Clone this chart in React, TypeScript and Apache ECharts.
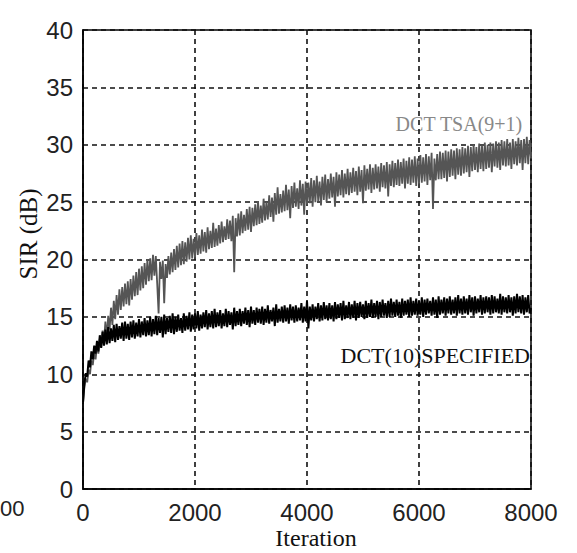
import React, { useEffect, useRef } from "react";
import * as echarts from "echarts";

const iterationStep = 25;

const tsaSir = [
  7.5, 8.9, 9.6, 9.3, 10.4, 10.0, 11.2, 10.8, 11.9, 11.3, 12.6, 11.8, 13.1, 12.4, 13.8, 12.9,
  14.6, 13.2, 15.1, 13.9, 15.8, 14.3, 16.4, 14.8, 16.9, 15.2, 17.4, 15.6, 17.6, 15.9, 17.9, 16.1,
  18.1, 16.0, 18.3, 16.5, 18.6, 16.8, 18.9, 16.9, 19.2, 17.3, 19.4, 17.5, 19.7, 17.8, 20.0, 18.1,
  20.1, 18.2, 20.4, 18.6, 20.3, 17.9, 15.3, 19.8, 18.3, 19.9, 16.2, 19.6, 18.4, 20.3, 18.7, 20.6,
  18.9, 20.9, 19.1, 21.2, 19.3, 21.4, 19.5, 21.6, 19.6, 21.5, 19.8, 21.9, 20.0, 22.1, 20.1, 21.8,
  20.2, 22.3, 20.4, 22.1, 20.5, 22.6, 20.7, 22.4, 20.6, 22.8, 20.9, 22.5, 21.0, 23.2, 21.1, 22.7,
  21.2, 23.0, 21.4, 23.3, 21.5, 22.9, 21.7, 23.5, 21.8, 23.4, 21.6, 23.8, 18.9, 23.6, 22.0, 24.0,
  22.1, 24.2, 22.3, 23.9, 22.5, 24.4, 22.6, 24.6, 22.4, 24.5, 22.9, 24.8, 23.0, 25.1, 23.1, 24.7,
  23.2, 25.3, 23.4, 25.0, 23.5, 25.6, 23.7, 25.4, 23.3, 25.8, 23.9, 26.3, 24.0, 25.7, 24.1, 26.0,
  24.2, 26.5, 24.3, 26.1, 23.6, 26.4, 24.5, 26.7, 24.6, 26.2, 24.4, 26.9, 24.7, 26.6, 23.9, 26.8,
  24.8, 26.7, 24.9, 27.1, 24.6, 26.9, 25.0, 27.3, 25.1, 26.8, 24.7, 27.2, 25.2, 27.4, 25.0, 27.0,
  25.3, 27.5, 25.4, 27.2, 24.6, 27.6, 25.5, 27.4, 25.6, 27.8, 25.4, 27.5, 25.7, 27.9, 25.6, 27.6,
  25.8, 28.0, 25.9, 27.7, 25.6, 28.1, 25.9, 27.8, 24.9, 28.2, 26.0, 27.9, 26.1, 28.3, 25.8, 28.0,
  26.1, 28.3, 26.2, 28.1, 25.9, 28.4, 26.3, 28.2, 26.2, 28.5, 25.5, 28.3, 26.4, 28.6, 26.3, 28.4,
  26.5, 28.7, 26.4, 28.5, 26.6, 28.8, 26.2, 28.6, 26.6, 28.9, 26.5, 28.7, 26.7, 29.0, 26.4, 28.8,
  26.6, 29.1, 26.7, 28.9, 26.8, 29.2, 26.5, 29.0, 26.9, 29.3, 24.4, 28.8, 26.9, 29.2, 27.0, 29.4,
  27.0, 29.3, 27.1, 29.5, 26.8, 29.4, 27.2, 29.6, 27.3, 29.5, 27.0, 29.7, 27.4, 29.6, 27.3, 29.8,
  27.5, 29.7, 27.6, 29.9, 27.2, 29.8, 27.7, 30.0, 27.8, 29.8, 27.6, 30.1, 27.9, 29.9, 27.7, 30.2,
  27.9, 30.0, 28.0, 30.2, 27.6, 30.1, 28.1, 30.3, 28.0, 30.2, 27.8, 30.4, 28.2, 30.3, 28.1, 30.5,
  28.2, 30.2, 27.9, 30.5, 28.3, 30.3, 28.2, 30.6, 28.4, 30.4, 27.8, 30.5, 28.4, 30.7, 28.3, 30.4,
  28.8,
];

const specifiedSir = [
  7.5, 9.2, 10.1, 9.8, 11.2, 10.6, 12.0, 11.3, 12.5, 11.8, 12.9, 12.0, 13.4, 12.3, 13.7, 12.5,
  13.9, 12.6, 14.1, 12.7, 14.0, 12.9, 14.3, 12.8, 14.4, 13.0, 14.2, 13.1, 14.5, 12.9, 14.6, 13.1,
  14.4, 13.0, 14.6, 13.2, 14.7, 13.1, 14.5, 13.3, 14.8, 13.2, 14.6, 13.4, 14.9, 13.3, 14.7, 13.4,
  15.0, 13.3, 14.8, 13.5, 15.1, 13.4, 14.9, 13.6, 15.0, 13.2, 15.2, 13.5, 14.9, 13.7, 15.1, 13.6,
  15.3, 13.5, 15.0, 13.7, 15.2, 13.8, 14.9, 13.6, 15.3, 13.8, 15.1, 13.9, 15.4, 13.7, 15.2, 13.9,
  15.3, 14.0, 15.5, 13.8, 15.2, 14.0, 15.4, 14.1, 15.6, 13.9, 15.3, 14.1, 15.5, 14.0, 15.7, 14.1,
  15.4, 14.2, 15.6, 14.0, 15.3, 14.2, 15.7, 14.1, 15.5, 14.3, 15.4, 13.9, 15.8, 14.2, 15.5, 14.3,
  15.7, 14.2, 15.5, 14.4, 15.8, 14.3, 15.6, 14.1, 15.9, 14.4, 15.6, 14.3, 15.8, 14.5, 15.7, 14.4,
  15.9, 14.3, 15.7, 14.5, 16.0, 14.4, 15.6, 14.6, 15.8, 14.2, 16.1, 14.5, 15.7, 14.6, 15.9, 14.5,
  16.0, 14.6, 15.8, 14.4, 16.1, 14.7, 15.9, 14.5, 16.0, 14.6, 15.8, 14.7, 16.2, 14.5, 15.9, 14.6,
  16.4, 14.0, 15.9, 14.7, 16.1, 14.6, 15.9, 14.8, 16.2, 14.6, 16.0, 14.7, 16.3, 14.8, 16.0, 14.7,
  16.2, 14.8, 16.0, 14.6, 16.3, 14.8, 16.1, 14.9, 16.2, 14.7, 16.4, 14.8, 16.0, 14.9, 16.3, 14.8,
  16.1, 14.9, 16.4, 14.7, 16.2, 14.9, 16.3, 15.0, 16.1, 14.8, 16.4, 14.9, 16.2, 15.0, 16.5, 14.9,
  16.2, 15.0, 16.4, 14.8, 16.3, 15.0, 16.5, 15.1, 16.2, 14.9, 16.4, 15.0, 16.6, 15.1, 16.3, 15.0,
  16.5, 15.1, 16.3, 14.9, 16.6, 15.1, 16.4, 15.2, 16.5, 15.0, 16.7, 15.1, 16.4, 15.2, 16.6, 15.1,
  16.4, 15.2, 16.7, 15.0, 16.5, 15.2, 16.6, 15.3, 16.4, 15.1, 16.7, 15.2, 16.5, 14.9, 16.8, 15.2,
  16.5, 15.3, 16.7, 15.1, 16.6, 15.3, 16.8, 15.2, 16.5, 15.3, 16.7, 15.1, 16.9, 15.3, 16.6, 15.2,
  16.8, 15.3, 16.6, 15.2, 16.9, 15.4, 16.7, 15.1, 16.8, 15.3, 16.6, 15.4, 16.9, 15.2, 16.7, 15.3,
  16.8, 15.4, 16.7, 15.2, 16.9, 15.3, 16.8, 15.4, 16.6, 15.3, 17.0, 15.2, 16.8, 15.4, 16.7, 15.3,
  16.9, 15.4, 16.7, 15.1, 16.8, 15.3, 17.0, 15.4, 16.8, 15.3, 16.9, 15.2, 16.7, 15.4, 16.9, 15.3,
  15.8,
];

const seriesNames = ["DCT TSA(9+1)", "DCT(10)SPECIFIED"];
const xAxisTitle = "Iteration";
const yAxisTitle = "SIR (dB)";

const toPairs = (vals: number[]) => vals.map((v, i) => [i * iterationStep, v]);

export default function App() {
  const ref = useRef<HTMLDivElement>(null);
  useEffect(() => {
    if (!ref.current) return;
    const chart = echarts.init(ref.current, null, { renderer: "svg" });
    const dash = { color: "#111", width: 1.6, type: [5, 4] as any };
    chart.setOption({
      animation: false,
      backgroundColor: "#fff",
      grid: {
        left: 83,
        right: 46,
        top: 30,
        bottom: 64,
        show: true,
        borderColor: "#000",
        borderWidth: 1.5,
        backgroundColor: "transparent",
      },
      xAxis: {
        type: "value",
        min: 0,
        max: 8000,
        interval: 2000,
        axisLine: { show: true, onZero: false, lineStyle: { color: "#000", width: 1.5 } },
        axisTick: { show: false },
        axisLabel: {
          fontFamily: "Liberation Sans",
          fontSize: 24,
          color: "#222",
          margin: 11,
          formatter: (v: number) => String(v),
        },
        splitLine: { show: true, lineStyle: dash },
      },
      yAxis: {
        type: "value",
        min: 0,
        max: 40,
        interval: 5,
        axisLine: { show: true, lineStyle: { color: "#000", width: 1.5 } },
        axisTick: { show: false },
        axisLabel: { fontFamily: "Liberation Sans", fontSize: 24, color: "#222", margin: 10 },
        splitLine: { show: true, lineStyle: dash },
      },
      series: [
        {
          name: seriesNames[0],
          type: "line",
          data: toPairs(tsaSir),
          showSymbol: false,
          lineStyle: { color: "#555", width: 1.8 },
          z: 3,
        },
        {
          name: seriesNames[1],
          type: "line",
          data: toPairs(specifiedSir),
          showSymbol: false,
          lineStyle: { color: "#000", width: 2 },
          z: 4,
        },
      ],
      graphic: [
        {
          type: "text",
          x: 316,
          y: 538,
          style: {
            text: xAxisTitle,
            font: '24px "Liberation Serif"',
            fill: "#111",
            textAlign: "center",
            textVerticalAlign: "middle",
          },
        },
        {
          type: "text",
          x: 28,
          y: 234,
          rotation: Math.PI / 2,
          style: {
            text: yAxisTitle,
            font: '25px "Liberation Serif"',
            fill: "#111",
            textAlign: "center",
            textVerticalAlign: "middle",
          },
        },
        {
          type: "text",
          right: 54,
          top: 114,
          style: { text: seriesNames[0], font: '20px "Liberation Serif"', fill: "#888" },
        },
        {
          type: "text",
          right: 47,
          top: 344,
          style: { text: seriesNames[1], font: '22px "Liberation Serif"', fill: "#111" },
        },
        {
          type: "text",
          left: 0,
          top: 497,
          style: { text: "00", font: '22px "Liberation Sans"', fill: "#222" },
        },
      ],
    });
    return () => chart.dispose();
  }, []);
  return (
    <div
      ref={ref}
      style={{ position: "fixed", left: 0, top: 0, width: 577, height: 553, background: "#fff" }}
    />
  );
}
